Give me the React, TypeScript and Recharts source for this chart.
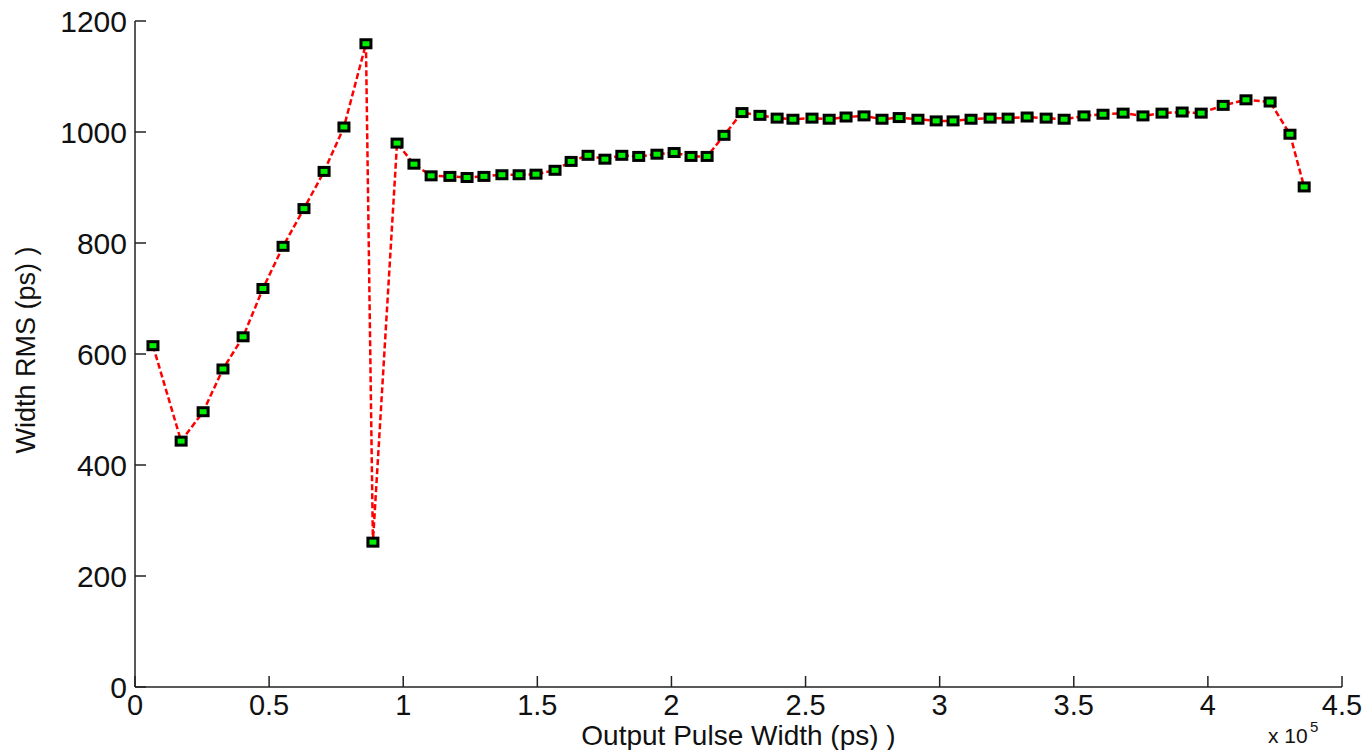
import React from "react";
import { LineChart, Line, XAxis, YAxis, Label } from "recharts";

// output pulse width (x 10^5 ps)
const pulseWidth = [
  0.067, 0.172, 0.254, 0.328, 0.403, 0.477, 0.552, 0.63, 0.705, 0.779,
  0.861, 0.887, 0.977, 1.04, 1.104, 1.174, 1.238, 1.301, 1.368, 1.432,
  1.495, 1.566, 1.626, 1.689, 1.752, 1.815, 1.878, 1.946, 2.01, 2.073,
  2.133, 2.196, 2.263, 2.33, 2.394, 2.453, 2.524, 2.588, 2.651, 2.718,
  2.785, 2.849, 2.919, 2.987, 3.05, 3.117, 3.188, 3.255, 3.326, 3.397,
  3.464, 3.538, 3.609, 3.684, 3.758, 3.829, 3.904, 3.975, 4.057, 4.142,
  4.232, 4.306, 4.359,
];

// width RMS (ps)
const widthRms = [
  615, 443, 496, 573, 631, 718, 794, 862, 929, 1009,
  1159, 261, 980, 942, 921, 920, 918, 920, 923, 923,
  924, 931, 947, 958, 951, 958, 956, 960, 963, 956,
  956, 994, 1035, 1030, 1025, 1023, 1025, 1023, 1027, 1029,
  1023, 1026, 1023, 1020, 1020, 1023, 1025, 1025, 1027, 1025,
  1023, 1029, 1032, 1034, 1029, 1034, 1036, 1034, 1048, 1058,
  1054, 996, 901,
];

const xTicks = [0, 0.5, 1, 1.5, 2, 2.5, 3, 3.5, 4, 4.5];
const yTicks = [0, 200, 400, 600, 800, 1000, 1200];

const data = pulseWidth.map((x, i) => ({ x, rms: widthRms[i] }));

const font = "'Liberation Sans', Arial, Helvetica, sans-serif";

const SquareDot = (props: any) => {
  const { cx, cy, index } = props;
  if (cx == null || cy == null) return <g key={index} />;
  return (
    <rect
      key={index}
      x={cx - 5}
      y={cy - 4}
      width={10}
      height={8}
      fill="#00ee00"
      stroke="#000"
      strokeWidth={3}
    />
  );
};

export default function App() {
  return (
    <div style={{ position: "absolute", left: 0, top: 0, background: "#fff" }}>
      <LineChart
        width={1368}
        height={750}
        data={data}
        margin={{ top: 21, right: 26, bottom: 33, left: 0 }}
      >
        <XAxis
          dataKey="x"
          type="number"
          domain={[0, 4.5]}
          ticks={xTicks}
          interval={0}
          height={30}
          tickSize={-11}
          tickMargin={18}
          stroke="#222"
          strokeWidth={1.5}
          tick={{ fill: "#111", fontSize: 29, fontFamily: font }}
        >
          <Label
            content={({ viewBox }: any) => (
              <g fontFamily={font} fill="#111">
                <text
                  x={viewBox.x + viewBox.width / 2}
                  y={745}
                  textAnchor="middle"
                  fontSize={28}
                >
                  Output Pulse Width (ps) )
                </text>
                <text x={1268} y={743} fontSize={21}>
                  x 10
                </text>
                <text x={1310} y={732} fontSize={15}>
                  5
                </text>
              </g>
            )}
          />
        </XAxis>
        <YAxis
          type="number"
          domain={[0, 1200]}
          ticks={yTicks}
          interval={0}
          width={135}
          tickSize={-11}
          tickMargin={19}
          stroke="#222"
          strokeWidth={1.5}
          tick={{ fill: "#111", fontSize: 30, fontFamily: font }}
        >
          <Label
            content={({ viewBox }: any) => {
              const cy = viewBox.y + viewBox.height / 2 - 4;
              return (
                <text
                  x={35}
                  y={cy}
                  transform={`rotate(-90 35 ${cy})`}
                  textAnchor="middle"
                  fontSize={27}
                  fontFamily={font}
                  fill="#111"
                >
                  Width RMS (ps) )
                </text>
              );
            }}
          />
        </YAxis>
        <Line
          type="linear"
          dataKey="rms"
          stroke="#ff0000"
          strokeWidth={2.5}
          strokeDasharray="6 3"
          dot={SquareDot}
          activeDot={false}
          isAnimationActive={false}
        />
      </LineChart>
    </div>
  );
}
